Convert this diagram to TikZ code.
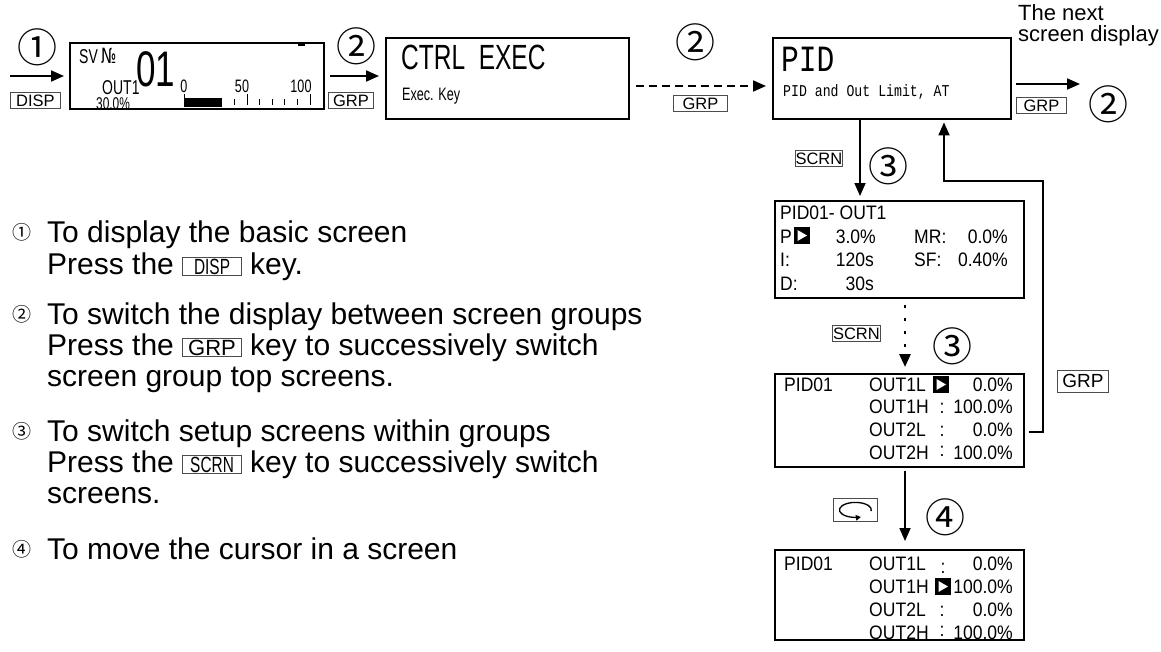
\documentclass[tikz,border=0pt]{standalone}
\usepackage{fontspec}
\setmainfont{Liberation Sans}
\newfontfamily\cjfont{Noto Sans CJK JP}
\newfontfamily\lcd[FakeStretch=0.7]{Liberation Sans}
\newfontfamily\narrowf[FakeStretch=0.9]{Liberation Sans}
\newfontfamily\lcdmono[FakeStretch=0.8]{Liberation Mono}
\newfontfamily\djsans[FakeStretch=0.7]{DejaVu Sans}
\usetikzlibrary{arrows.meta}
\setlength{\fboxsep}{1pt}
\setlength{\fboxrule}{0.8pt}
\newcommand\keyb[1]{\fcolorbox{black!70}{white}{\makebox[56pt]{\fontsize{22}{22}\selectfont #1}}}
\begin{document}
\begin{tikzpicture}[x=1pt,y=-1pt,
  scr/.style={draw, line width=2.4pt, inner sep=0, anchor=north west},
  key/.style={draw=black!70, line width=0.8pt, inner sep=0pt, minimum height=16pt, font=\fontsize{16.5}{16.5}\selectfont},
  arr/.style={line width=1.8pt, -{Triangle[length=13pt,width=11pt]}},
  cnum/.style={font=\cjfont\fontsize{40}{40}\selectfont, inner sep=0},
  snum/.style={font=\cjfont\fontsize{19}{19}\selectfont, inner sep=0},
  txt/.style={font=\fontsize{30}{30}\selectfont, inner sep=0, anchor=base west},
  lt/.style={font=\narrowf\fontsize{19.5}{19.5}\selectfont, inner sep=0, anchor=base west},
  lr/.style={font=\narrowf\fontsize{19.5}{19.5}\selectfont, inner sep=0, anchor=base east},
  lc/.style={font=\narrowf\fontsize{19.5}{19.5}\selectfont, inner sep=0, anchor=base},
  cursor/.pic={\fill (0,0) rectangle (16,17); \fill[white] (3.5,3) -- (13,8.5) -- (3.5,14) -- cycle;},
]
\useasboundingbox (0,0) rectangle (1161,651);

% ---------- screens ----------
\node[scr, minimum width=254pt, minimum height=66pt] (basic) at (69,42) {};
\node[scr, minimum width=243pt, minimum height=81pt] (ctrl) at (385,37) {};
\node[scr, minimum width=238pt, minimum height=81pt] (pid) at (772,37) {};
\node[scr, minimum width=249pt, minimum height=97pt] (b2) at (774,200) {};
\node[scr, minimum width=249pt, minimum height=93pt] (b3) at (774,373) {};
\node[scr, minimum width=249pt, minimum height=90pt] (b4) at (774,549) {};

% basic screen contents
\node[inner sep=0, anchor=base west, font=\lcd\fontsize{20}{20}\selectfont] (sv) at (79,63) {SV};
\node[inner sep=0, anchor=base west, font=\djsans\fontsize{21}{21}\selectfont] (no) at (101,63) {№};
\node[inner sep=0, anchor=base west, font=\lcd\fontsize{50}{50}\selectfont] (n01) at (136,86) {01};
\node[inner sep=0, anchor=base west, font=\lcd\fontsize{20}{20}\selectfont] (out1) at (102,94) {OUT1};
\node[inner sep=0, anchor=base west, font=\lcd\fontsize{17}{17}\selectfont] (pct) at (96,109.5) {30.0\%};
\node[inner sep=0, anchor=base, font=\lcd\fontsize{18}{18}\selectfont] (s0) at (184,92) {0};
\node[inner sep=0, anchor=base, font=\lcd\fontsize{18}{18}\selectfont] (s50) at (242,92) {50};
\node[inner sep=0, anchor=base, font=\lcd\fontsize{18}{18}\selectfont] (s100) at (301,92) {100};
\fill (298,43.5) rectangle (305,46);
\fill (184,98) rectangle (222,107);
\foreach \i in {0,...,10} {
  \pgfmathsetmacro\xx{184+\i*12.6}
  \ifnum\i=0 \draw[line width=0.9pt] (\xx,94) -- (\xx,105);
  \else\ifnum\i=5 \draw[line width=0.9pt] (\xx,94) -- (\xx,105);
  \else\ifnum\i=10 \draw[line width=0.9pt] (\xx,94) -- (\xx,105);
  \else \draw[line width=0.9pt] (\xx,99) -- (\xx,105);
  \fi\fi\fi
}

% ctrl screen
\node[inner sep=0, anchor=base west, font=\lcd\fontsize{35}{35}\selectfont] (ctrlt) at (401,69) {CTRL\ \ EXEC};
\node[inner sep=0, anchor=base west, font=\lcd\fontsize{18}{18}\selectfont] (exk) at (402,100) {Exec. Key};

% pid screen
\node[inner sep=0, anchor=base west, font=\lcdmono\fontsize{37}{37}\selectfont] (pidt) at (781,71) {PID};
\node[inner sep=0, anchor=base west, font=\lcdmono\fontsize{16.5}{16.5}\selectfont] (pidsub) at (783,96) {PID and Out Limit, AT};

% next screen text
\node[inner sep=0, anchor=base west, font=\fontsize{22}{24}\selectfont] (nexttxt) at (1018,20) {The next};
\node[inner sep=0, anchor=base west, font=\fontsize{22}{24}\selectfont] (nexttxt2) at (1018,41) {screen display};

% ---------- box 2 ----------
\node[lt] (r1) at (780,219) {PID01- OUT1};
\node[lt] (r2a) at (780,243) {P};
\pic at (794,227) {cursor};
\node[lr] (r2b) at (876,243) {3.0\%};
\node[lt] (r2c) at (914,243) {MR:};
\node[lr] (r2d) at (1008,243) {0.0\%};
\node[lt] (r3a) at (780,266) {I:};
\node[lr] (r3b) at (874,266) {120s};
\node[lt] (r3c) at (914,266) {SF:};
\node[lr] (r3d) at (1008,266) {0.40\%};
\node[lt] (r4a) at (780,290) {D:};
\node[lr] (r4b) at (874,290) {30s};

% ---------- box 3 ----------
\node[lt] (q1a) at (784,391) {PID01};
\node[lt] (q1b) at (869,391) {OUT1L};
\pic at (933,376) {cursor};
\node[lr] (q1d) at (1013,391) {0.0\%};
\node[lt] (q2b) at (869,413) {OUT1H};
\node[lc] (q2c) at (942,413) {:};
\node[lr] (q2d) at (1013,413) {100.0\%};
\node[lt] (q3b) at (869,436) {OUT2L};
\node[lc] (q3c) at (942,436) {:};
\node[lr] (q3d) at (1013,436) {0.0\%};
\node[lt] (q4b) at (869,459) {OUT2H};
\node[lc] (q4c) at (942,456) {:};
\node[lr] (q4d) at (1013,459) {100.0\%};

% ---------- box 4 ----------
\node[lt] (p1a) at (784,570) {PID01};
\node[lt] (p1b) at (869,570) {OUT1L};
\node[lc] (p1c) at (943,573) {:};
\node[lr] (p1d) at (1013,570) {0.0\%};
\node[lt] (p2b) at (869,593) {OUT1H};
\pic at (935,578) {cursor};
\node[lr] (p2d) at (1013,593) {100.0\%};
\node[lt] (p3b) at (869,616) {OUT2L};
\node[lc] (p3c) at (942,616) {:};
\node[lr] (p3d) at (1013,616) {0.0\%};
\node[lt] (p4b) at (869,639) {OUT2H};
\node[lc] (p4c) at (942,636) {:};
\node[lr] (p4d) at (1013,639) {100.0\%};

% ---------- key labels ----------
\node[key, minimum width=50pt, anchor=north west] (kdisp) at (10,92) {DISP\hspace{10pt}};
\node[key, minimum width=45pt, anchor=north west] (kgrp1) at (328,92) {GRP\hspace{6pt}};
\node[key, minimum width=54pt, anchor=north west] (kgrp2) at (673,95) {GRP};
\node[key, minimum width=50pt, anchor=north west] (kgrp3) at (1016,97) {GRP};
\node[key, minimum width=47pt, anchor=north west] (kscrn1) at (795,150) {SCRN};
\node[key, minimum width=48pt, anchor=north west] (kscrn2) at (832,325) {SCRN};
\node[key, minimum width=51pt, minimum height=22pt, font=\fontsize{19}{19}\selectfont, anchor=north west] (kgrp4) at (1057,370) {GRP};
\node[key, minimum width=44pt, minimum height=23pt, anchor=north west] (krot) at (833,498) {};
\draw[line width=1.3pt, -{Triangle[length=5pt,width=5.5pt]}] (krot.center) ++(10:16 and 7.5) arc[start angle=10, end angle=-290, x radius=16, y radius=7.5];

% ---------- circled numbers ----------
\node[cnum] (c1) at (37,47) {①};
\node[cnum] (c2a) at (356,46) {②};
\node[cnum] (c2b) at (695,42) {②};
\node[cnum] (c2c) at (1108,104) {②};
\node[cnum] (c3a) at (888,166) {③};
\node[cnum] (c3b) at (952,346) {③};
\node[cnum] (c4) at (945,517) {④};

% ---------- arrows ----------
\coordinate (st) at (10,76);
\coordinate (nx) at (1080,84);
\draw[arr, shorten >=5pt] (st) -- (st -| basic.west);
\coordinate (a2) at (330,76);
\draw[arr, shorten >=6pt] (a2) -- (a2 -| ctrl.west);
\coordinate (a3) at (636,86);
\draw[arr, dash pattern=on 8pt off 5pt, shorten >=6pt] (a3) -- (a3 -| pid.west);
\coordinate (a4) at (1016,84);
\draw[arr] (a4) -- (nx);
\coordinate (vx) at (860,0);
\draw[arr, shorten >=4pt] (pid.south -| vx) -- (b2.north -| vx);
\coordinate (dx) at (905,0);
\draw[line width=2.6pt, dash pattern=on 3pt off 10pt, -{Triangle[length=13pt,width=11pt]}, shorten <=6pt, shorten >=6pt] (b2.south -| dx) -- (b3.north -| dx);
\draw[arr, shorten <=3pt, shorten >=8pt] (b3.south -| dx) -- (b4.north -| dx);
\coordinate (ret1) at (1043,432);
\coordinate (ret2) at (1043,181);
\coordinate (ret3) at (944,181);
\draw[arr, shorten <=4pt, shorten >=2pt] (b3.east |- ret1) -- (ret1) -- (ret2) -- (ret3) -- (ret3 |- pid.south);

% ---------- left explanations ----------
\node[snum] (s1) at (22,232) {①};
\node[txt] (t1a) at (47,242) {To display the basic screen};
\node[txt] (t1b) at (47,274) {Press the \keyb{\lcd DISP} key.};
\node[snum] (s2) at (22,314) {②};
\node[txt] (t2a) at (47,324) {To switch the display between screen groups};
\node[txt] (t2b) at (47,355) {Press the \keyb{GRP} key to successively switch};
\node[txt] (t2c) at (47,386) {screen group top screens.};
\node[snum] (s3) at (22,431) {③};
\node[txt] (t3a) at (47,441) {To switch setup screens within groups};
\node[txt] (t3b) at (47,472) {Press the \keyb{\lcd SCRN} key to successively switch};
\node[txt] (t3c) at (47,503) {screens.};
\node[snum] (s4) at (22,549) {④};
\node[txt] (t4a) at (47,559) {To move the cursor in a screen};
\end{tikzpicture}
\end{document}
